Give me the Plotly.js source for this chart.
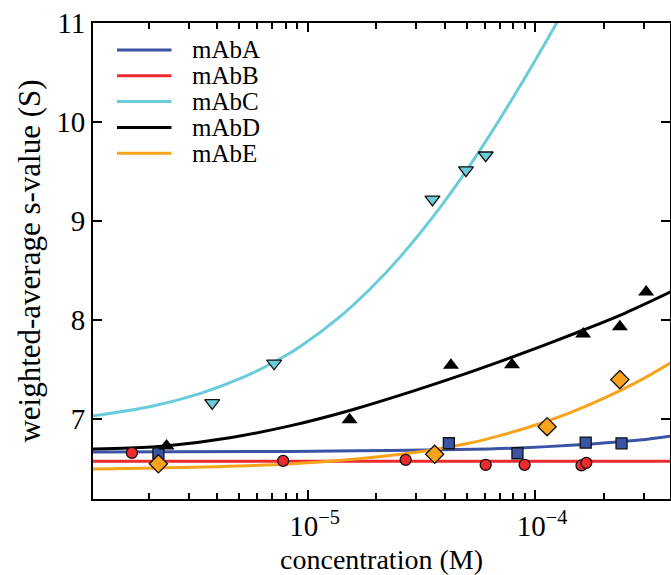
<!DOCTYPE html>
<html>
<head>
<meta charset="utf-8">
<script src="https://cdn.plot.ly/plotly-3.0.1.min.js"></script>
<style>html,body{margin:0;padding:0;background:#fff}#chart{width:671px;height:575px}</style>
</head>
<body>
<div id="chart"></div>
<script>
// ---- data (concentration in M, s-value in S) ----
const mAbA_x = [2.21e-6, 4.18e-5, 8.37e-5, 1.67e-4, 2.40e-4];
const mAbA_y = [6.657, 6.758, 6.657, 6.765, 6.757];
const mAbB_x = [1.69e-6, 7.81e-6, 2.70e-5, 6.07e-5, 9.0e-5, 1.60e-4, 1.68e-4];
const mAbB_y = [6.66, 6.58, 6.59, 6.54, 6.54, 6.535, 6.56];
const mAbC_x = [3.81e-6, 7.13e-6, 3.54e-5, 4.97e-5, 6.07e-5];
const mAbC_y = [7.165, 7.565, 9.22, 9.515, 9.665];
const mAbD_x = [2.40e-6, 1.53e-5, 4.27e-5, 7.92e-5, 1.627e-4, 2.36e-4, 3.08e-4];
const mAbD_y = [6.73, 6.995, 7.545, 7.55, 7.86, 7.935, 8.285];
const mAbE_x = [2.21e-6, 3.62e-5, 1.13e-4, 2.36e-4];
const mAbE_y = [6.55, 6.646, 6.925, 7.40];

// fitted curves
const fitA_x = [1.14e-6, 8.36e-6, 2.3e-5, 6.3e-5, 8.57e-5, 1.5e-4, 2.0e-4, 2.884e-4, 3.947e-4];
const fitA_y = [6.67, 6.675, 6.685, 6.70, 6.71, 6.74, 6.76, 6.79, 6.83];
const fitB_x = [1.14e-6, 3.947e-4];
const fitB_y = [6.577, 6.577];
const fitC_x = [1.14e-6, 2.07e-6, 3.363e-6, 5.195e-6, 7.108e-6, 9.25e-6, 1.386e-5, 1.878e-5, 2.544e-5, 3.813e-5, 5.165e-5, 7.9e-5, 1.284e-4, 1.739e-4];
const fitC_y = [7.035, 7.132, 7.259, 7.422, 7.575, 7.732, 8.034, 8.312, 8.634, 9.134, 9.56, 10.225, 11.055, 11.61];
const fitD_x = [1.14e-6, 1.656e-6, 2.483e-6, 4.556e-6, 8.36e-6, 1.534e-5, 3.113e-5, 4.668e-5, 6.998e-5, 1.049e-4, 1.572e-4, 2.477e-4, 3.947e-4];
const fitD_y = [6.70, 6.709, 6.735, 6.813, 6.933, 7.089, 7.306, 7.44, 7.582, 7.73, 7.886, 8.07, 8.286];
const fitE_x = [1.14e-6, 2.40e-6, 8.36e-6, 1.387e-5, 2.299e-5, 3.62e-5, 5.165e-5, 6.998e-5, 9.97e-5, 1.421e-4, 2.024e-4, 2.884e-4, 3.947e-4];
const fitE_y = [6.498, 6.51, 6.548, 6.585, 6.635, 6.695, 6.76, 6.835, 6.94, 7.065, 7.215, 7.39, 7.57];

const names = ['mAbA', 'mAbB', 'mAbC', 'mAbD', 'mAbE'];
const colors = ['#3a53a4', '#ee2a2f', '#6accda', '#000000', '#f7a31c'];

const xMajor = [1e-5, 1e-4];
const xMajorText = ['10<sup>\u22125</sup>', '10<sup>\u22124</sup>'];
const xMinor = [2e-6, 3e-6, 4e-6, 5e-6, 6e-6, 7e-6, 8e-6, 9e-6,
                2e-5, 3e-5, 4e-5, 5e-5, 6e-5, 7e-5, 8e-5, 9e-5,
                2e-4, 3e-4];
const yTicks = [7, 8, 9, 10, 11];

const fits = [[fitA_x, fitA_y], [fitB_x, fitB_y], [fitC_x, fitC_y], [fitD_x, fitD_y], [fitE_x, fitE_y]];
const pts = [[mAbA_x, mAbA_y, 'square', 11], [mAbB_x, mAbB_y, 'circle', 11],
             [mAbC_x, mAbC_y, 'triangle-down', 13], [mAbD_x, mAbD_y, 'triangle-up', 14],
             [mAbE_x, mAbE_y, 'diamond', 14]];

const traces = [];
for (let i = 0; i < 5; i++) {
  traces.push({
    x: fits[i][0], y: fits[i][1], type: 'scatter', mode: 'lines', name: names[i], showlegend: false,
    line: {color: colors[i], width: 3, shape: 'spline', smoothing: 1}
  });
}
for (let i = 0; i < 5; i++) {
  traces.push({
    x: pts[i][0], y: pts[i][1], type: 'scatter', mode: 'markers', showlegend: false,
    marker: {symbol: pts[i][2], size: pts[i][3], color: colors[i],
             line: {color: '#111', width: i === 3 ? 0 : 1.3}},
    cliponaxis: false
  });
}

const fam = '"Liberation Serif", "Times New Roman", serif';
const font = {family: fam, color: '#000'};

// legend drawn as line samples + labels (top-left inside the axes)
const legTop = 0.9433, legStep = 0.0542;
const shapes = [], annotations = [];
names.forEach((n, i) => {
  const yy = legTop - i * legStep;
  shapes.push({type: 'line', xref: 'paper', yref: 'paper', x0: 0.0416, x1: 0.136, y0: yy, y1: yy,
               line: {color: colors[i], width: 3}});
  annotations.push({xref: 'paper', yref: 'paper', x: 0.168, y: yy, xanchor: 'left', yanchor: 'middle',
                    text: n, showarrow: false, font: {family: fam, size: 25, color: '#000'}});
});

const layout = {
  width: 671, height: 575,
  margin: {l: 93, r: 1, t: 23, b: 76},
  paper_bgcolor: '#fff', plot_bgcolor: '#fff',
  font: Object.assign({size: 28}, font),
  showlegend: false,
  shapes: shapes, annotations: annotations,
  xaxis: {
    type: 'log', range: [Math.log10(1.14e-6), Math.log10(3.92e-4)],
    tickmode: 'array', tickvals: xMajor, ticktext: xMajorText,
    ticks: 'inside', ticklen: 9, tickwidth: 2, tickcolor: '#000',
    showline: true, linecolor: '#000', linewidth: 2, mirror: 'allticks',
    showgrid: false, zeroline: false,
    tickfont: Object.assign({size: 29}, font), ticklabelshift: 7,
    minor: {tickmode: 'array', tickvals: xMinor, ticks: 'inside', ticklen: 6, tickwidth: 2, tickcolor: '#000', showgrid: false},
    title: {text: 'concentration (M)', font: Object.assign({size: 28}, font), standoff: 14}
  },
  yaxis: {
    range: [6.195, 11.0],
    tickmode: 'array', tickvals: yTicks,
    ticks: 'inside', ticklen: 9, tickwidth: 2, tickcolor: '#000',
    showline: true, linecolor: '#000', linewidth: 2, mirror: 'allticks',
    showgrid: false, zeroline: false,
    tickfont: Object.assign({size: 29}, font),
    title: {text: 'weighted-average s-value (S)', font: Object.assign({size: 31}, font), standoff: 6}
  }
};

Plotly.newPlot('chart', traces, layout, {displayModeBar: false, staticPlot: true});
</script>
</body>
</html>
